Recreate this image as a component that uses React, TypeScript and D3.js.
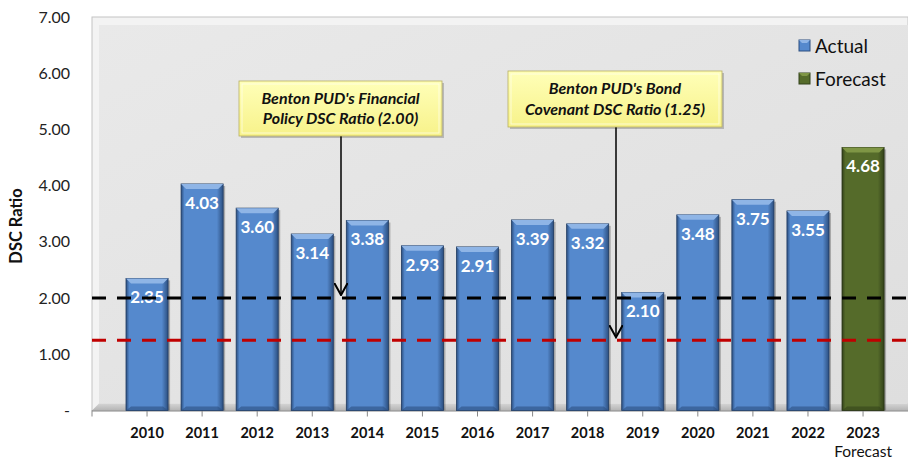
import React from 'react';
import * as d3 from 'd3';

const years = ['2010', '2011', '2012', '2013', '2014', '2015', '2016', '2017', '2018', '2019', '2020', '2021', '2022', '2023'];
const values = [2.35, 4.03, 3.6, 3.14, 3.38, 2.93, 2.91, 3.39, 3.32, 2.1, 3.48, 3.75, 3.55, 4.68];
const kinds = ['Actual', 'Actual', 'Actual', 'Actual', 'Actual', 'Actual', 'Actual', 'Actual', 'Actual', 'Actual', 'Actual', 'Actual', 'Actual', 'Forecast'];
const yTicks = [0, 1, 2, 3, 4, 5, 6, 7];
const policyRatio = 2.0;
const covenantRatio = 1.25;
const legendItems = ['Actual', 'Forecast'];

const W = 908;
const H = 462;
const plot = { left: 92, right: 908, top: 17, bottom: 410.5 };
const FONT = 'Lato, "Open Sans", sans-serif';

const palette = {
    Actual: { main: '#5589cd', light: '#8fb5e6', dark: '#2c4f80', edge: '#1f3a60' },
    Forecast: { main: '#556b2a', light: '#7f9645', dark: '#33421a', edge: '#252f12' }
};

export default function App() {
    const y = d3.scaleLinear().domain([0, 7]).range([plot.bottom, plot.top]);
    const x = d3.scaleBand().domain(years).range([119.5, 890.6]).paddingInner(0.236).paddingOuter(0.118);
    const bw = x.bandwidth();
    const fmt = d3.format('.2f');

    const callouts = [
        { lines: ["Benton PUD's Financial", 'Policy DSC Ratio (2.00)'], x0: 239, x1: 442, y0: 81, y1: 136, ax: 341, target: policyRatio },
        { lines: ["Benton PUD's Bond", 'Covenant DSC Ratio (1.25)'], x0: 508, x1: 722, y0: 71, y1: 127, ax: 616, target: covenantRatio }
    ];

    return (
        <svg width={W} height={H} style={{ position: 'absolute', left: 0, top: 0, fontFamily: FONT }}>
            <defs>
                <linearGradient id="wall" x1="0" y1="0" x2="1" y2="1">
                    <stop offset="0" stopColor="#e9e9e9" />
                    <stop offset="1" stopColor="#dedede" />
                </linearGradient>
                <linearGradient id="floor" x1="0" y1="0" x2="0" y2="1">
                    <stop offset="0" stopColor="#d4d4d4" />
                    <stop offset="1" stopColor="#b4b4b4" />
                </linearGradient>
                {Object.entries(palette).map(([k, c]) => (
                    <linearGradient key={k} id={`bar-${k}`} x1="0" y1="0" x2="1" y2="0">
                        <stop offset="0" stopColor={c.dark} />
                        <stop offset="0.08" stopColor={c.main} />
                        <stop offset="0.85" stopColor={c.main} />
                        <stop offset="1" stopColor={c.dark} />
                    </linearGradient>
                ))}
                <linearGradient id="callout" x1="0" y1="0" x2="0" y2="1">
                    <stop offset="0" stopColor="#ffffb8" />
                    <stop offset="1" stopColor="#f7f28a" />
                </linearGradient>
                <marker id="arrow" viewBox="0 0 10 10" refX="9" refY="5" markerWidth="9" markerHeight="9" orient="auto">
                    <path d="M0,0 L9,5 L0,10" fill="none" stroke="#000" strokeWidth="1.5" />
                </marker>
            </defs>

            {/* plot area with a 3d wall */}
            <rect x={plot.left} y={plot.top} width={plot.right - plot.left} height={plot.bottom - plot.top} fill="#f3f3f3" stroke="#c4c4c4" />
            <rect x={plot.left + 7} y={plot.top + 8} width={plot.right - plot.left - 7} height={plot.bottom - plot.top - 15} fill="url(#wall)" />
            <path d={`M${plot.left},${plot.bottom} L${plot.left + 7},${plot.bottom - 7} L${plot.right},${plot.bottom - 7} L${plot.right},${plot.bottom} Z`} fill="url(#floor)" />

            {/* y axis */}
            {yTicks.map((t) => (
                <text key={t} x={70} y={y(t)} dy="0.35em" textAnchor="end" fontSize={16} fill="#222">
                    {t === 0 ? '-' : fmt(t)}
                </text>
            ))}
            <text transform={`translate(22, 226) rotate(-90)`} textAnchor="middle" fontSize={16.5} fontWeight="bold" fill="#111">DSC Ratio</text>

            {/* x axis */}
            <line x1={plot.left} x2={plot.right} y1={plot.bottom + 0.5} y2={plot.bottom + 0.5} stroke="#888" />
            <line x1={plot.left} x2={plot.left} y1={plot.bottom} y2={plot.bottom + 6} stroke="#888" />
            {years.map((yr, i) => (
                <g key={yr}>
                    <line x1={x(yr) + bw / 2} x2={x(yr) + bw / 2} y1={plot.bottom} y2={plot.bottom + 6} stroke="#888" />
                    <text x={x(yr) + bw / 2} y={438} textAnchor="middle" fontSize={14.5} fontWeight="bold" fill="#111">{yr}</text>
                    {kinds[i] === 'Forecast' && (
                        <text x={x(yr) + bw / 2} y={457} textAnchor="middle" fontSize={15.5} fill="#111">Forecast</text>
                    )}
                </g>
            ))}

            {/* bars */}
            {years.map((yr, i) => {
                const c = palette[kinds[i]];
                const x0 = x(yr);
                const top = y(values[i]);
                const h = plot.bottom - top;
                return (
                    <g key={yr}>
                        <rect x={x0 + 2} y={top + 2} width={bw} height={h - 2} fill="#000" opacity={0.25} />
                        <rect x={x0} y={top} width={bw} height={h} fill={`url(#bar-${kinds[i]})`} stroke={c.edge} strokeWidth={0.8} />
                        <path d={`M${x0},${top} L${x0 + bw},${top} L${x0 + bw - 5},${top + 5} L${x0 + 5},${top + 5} Z`} fill={c.light} />
                        <path d={`M${x0},${plot.bottom} L${x0 + bw},${plot.bottom} L${x0 + bw - 5},${plot.bottom - 4} L${x0 + 5},${plot.bottom - 4} Z`} fill={c.dark} opacity={0.6} />
                        <text x={x0 + bw / 2} y={top + 25} textAnchor="middle" fontSize={17} fontWeight="bold" fill="#fff">{fmt(values[i])}</text>
                    </g>
                );
            })}

            {/* reference lines */}
            <line x1={plot.left} x2={plot.right} y1={y(policyRatio)} y2={y(policyRatio)} stroke="#000" strokeWidth={3} strokeDasharray="14 11" />
            <line x1={plot.left} x2={plot.right} y1={y(covenantRatio)} y2={y(covenantRatio)} stroke="#c00000" strokeWidth={3} strokeDasharray="14 11" />

            {/* callouts */}
            {callouts.map((c, i) => (
                <g key={i}>
                    <line x1={c.ax} x2={c.ax} y1={c.y1} y2={y(c.target) - 3} stroke="#000" strokeWidth={1.5} markerEnd="url(#arrow)" />
                    <rect x={c.x0 + 2} y={c.y0 + 2} width={c.x1 - c.x0} height={c.y1 - c.y0} fill="#000" opacity={0.2} />
                    <rect x={c.x0} y={c.y0} width={c.x1 - c.x0} height={c.y1 - c.y0} fill="url(#callout)" stroke="#b8b060" strokeWidth={0.8} />
                    <rect x={c.x0 + 3} y={c.y0 + 3} width={c.x1 - c.x0 - 6} height={c.y1 - c.y0 - 6} fill="none" stroke="#fffff0" strokeOpacity={0.7} strokeWidth={1} />
                    {c.lines.map((l, j) => (
                        <text key={j} x={(c.x0 + c.x1) / 2} y={(c.y0 + c.y1) / 2 + (j - 0.5) * 20.5} dy="0.35em" textAnchor="middle" fontSize={16} fontWeight="bold" fontStyle="italic" fill="#111">{l}</text>
                    ))}
                </g>
            ))}

            {/* legend */}
            {legendItems.map((k, i) => (
                <g key={k} transform={`translate(799, ${40 + i * 33})`}>
                    <rect width={11} height={11} fill={palette[k].main} stroke={palette[k].dark} strokeWidth={1} />
                    <path d="M0,0 L11,0 L8,3 L3,3 Z" fill={palette[k].light} />
                    <text x={16} y={6} dy="0.35em" fontSize={19} fill="#111">{k}</text>
                </g>
            ))}
        </svg>
    );
}
